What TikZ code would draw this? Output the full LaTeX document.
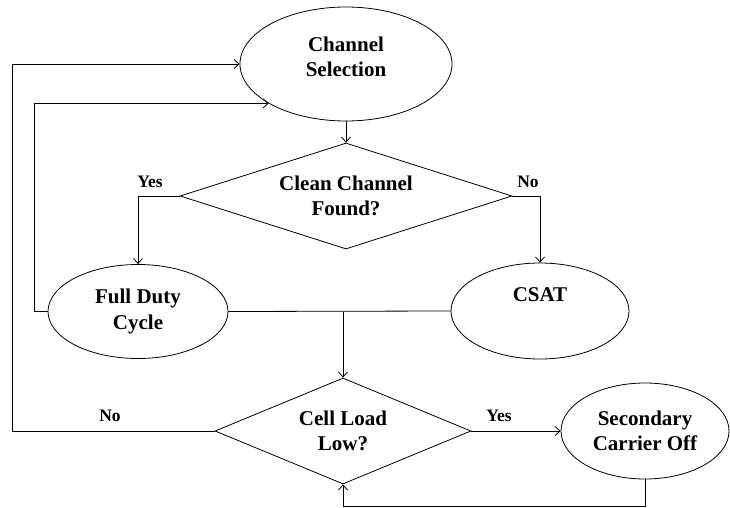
\documentclass[tikz,border=0pt]{standalone}
\usepackage{fontspec}
\setmainfont{Liberation Serif}
\usetikzlibrary{shapes.geometric,arrows.meta}
\begin{document}
\begin{tikzpicture}[x=1pt,y=-1pt,
  every node/.style={font=\bfseries\fontsize{21}{25.5}\selectfont, align=center, inner sep=0pt},
  oval/.style={ellipse, draw, line width=0.8pt},
  decision/.style={diamond, draw, line width=0.8pt},
  lbl/.style={font=\bfseries\fontsize{17.5}{20}\selectfont},
  conn/.style={line width=0.8pt},
  arr/.style={conn, -{Straight Barb[length=5pt,width=9pt]}}]
\useasboundingbox (0,0) rectangle (730,508);
\node[oval, minimum width=212pt, minimum height=114pt] (cs) at (346,64) {};
\node (cstext) at (346,57) {Channel\\Selection};
\node[decision, shape aspect=3.13, minimum width=332pt, minimum height=106pt] (d1) at (346,196) {Clean Channel\\Found?};
\node[oval, minimum width=180pt, minimum height=94pt] (fdc) at (138,311.5) {Full Duty\\Cycle};
\node[oval, minimum width=178pt, minimum height=96pt] (csat) at (540,311) {CSAT\\\strut};
\node[decision, shape aspect=2.415, minimum width=256pt, minimum height=106pt] (d2) at (343,431) {Cell Load\\Low?};
\node[oval, minimum width=168pt, minimum height=96pt] (sco) at (645,431) {Secondary\\Carrier Off};
\node[lbl] (yes1) at (150,182) {Yes};
\node[lbl] (no1) at (528,182) {No};
\node[lbl] (no2) at (110,416) {No};
\node[lbl] (yes2) at (499,416) {Yes};
\coordinate (j) at (d2.north |- fdc.east);
\draw[arr] (cs.south) -- (d1.north);
\draw[arr] (d1.west) -| (fdc.north);
\draw[arr] (d1.east) -| (csat.north);
\draw[conn] (fdc.east) -- (csat.west);
\draw[arr] (j) -- (d2.north);
\draw[arr] (d2.east) -- (sco.west);
\draw[arr] (sco.south) -- ++(0,27) -| (d2.south);
\draw[arr] (d2.west) -- ++(-202,0) |- (cs.west);
\draw[arr] (fdc.west) -- ++(-13,0) |- (cs.207);
\end{tikzpicture}
\end{document}
